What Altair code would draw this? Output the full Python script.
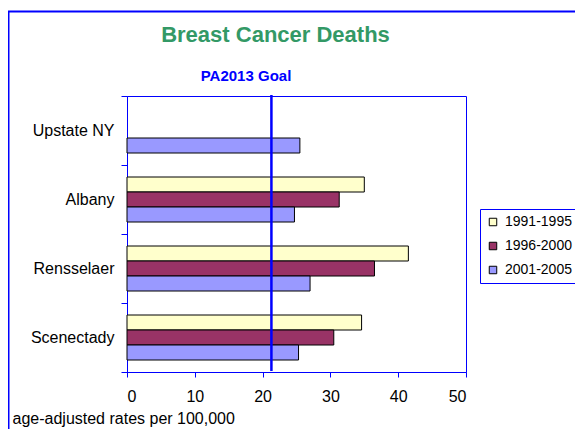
import altair as alt
import pandas as pd

categories = ["Upstate NY", "Albany", "Rensselaer", "Scenectady"]
periods = ["1991-1995", "1996-2000", "2001-2005"]
v1991 = [None, 35.0, 41.5, 34.6]
v1996 = [None, 31.3, 36.5, 30.5]
v2001 = [25.5, 24.7, 27.0, 25.3]
goal = [21.3]
colors = ["#FFFFCC", "#993366", "#9999FF"]
x_ticks = [0, 10, 20, 30, 40, 50]

rows = []
for series, vals in zip(periods, [v1991, v1996, v2001]):
    for cat, v in zip(categories, vals):
        if v is not None:
            rows.append({"area": cat, "period": series, "rate": v})
df = pd.DataFrame(rows)

FONT = "Liberation Sans"
BLUE = "#0000FF"

frame = alt.Chart(pd.DataFrame({"k": [0]})).mark_rect(
    fillOpacity=0, stroke=BLUE, strokeWidth=2
).encode(
    x=alt.value(-118.5), x2=alt.value(800), y=alt.value(-84.5), y2=alt.value(800)
)

bars = alt.Chart(df).mark_bar(stroke="black", strokeWidth=1).encode(
    x=alt.X(
        "rate:Q",
        scale=alt.Scale(domain=[0, 50], nice=False),
        axis=alt.Axis(
            values=x_ticks,
            title="age-adjusted rates per 100,000",
            titleX=-115,
            titleY=51,
            titleAlign="left",
            titleBaseline="alphabetic",
            titleFontSize=16,
            titleFontWeight="normal",
            titleFont=FONT,
            titleColor="black",
            labelFontSize=16,
            labelFont=FONT,
            labelColor="black",
            labelPadding=11,
            tickSize=5,
            tickColor=BLUE,
            domainColor=BLUE,
            grid=False,
        ),
    ),
    y=alt.Y(
        "area:N",
        sort=categories,
        scale=alt.Scale(domain=categories, paddingInner=0, paddingOuter=0),
        axis=alt.Axis(
            title=None,
            tickBand="extent",
            labelFontSize=16,
            labelFont=FONT,
            labelColor="black",
            labelPadding=7,
            tickSize=6,
            tickColor=BLUE,
            domainColor=BLUE,
            grid=False,
        ),
    ),
    yOffset=alt.YOffset(
        "period:N", sort=periods,
        scale=alt.Scale(domain=periods, paddingInner=0, paddingOuter=0.8),
    ),
    color=alt.Color(
        "period:N",
        sort=periods,
        scale=alt.Scale(domain=periods, range=colors),
        legend=alt.Legend(
            title=None,
            orient="none",
            legendX=353,
            legendY=113,
            strokeColor=BLUE,
            padding=6,
            symbolType="square",
            symbolSize=56,
            symbolStrokeColor="black",
            symbolStrokeWidth=1,
            labelFontSize=14,
            labelFont=FONT,
            labelColor="black",
            labelOffset=5,
            rowPadding=10,
        ),
    ),
)

rule = alt.Chart(pd.DataFrame({"goal": goal})).mark_rule(
    color=BLUE, strokeWidth=2.5
).encode(x="goal:Q", y=alt.value(-1), y2=alt.value(275))

title = alt.Chart(pd.DataFrame({"t": ["Breast Cancer Deaths"]})).mark_text(
    align="center", baseline="alphabetic", font=FONT, fontSize=22,
    fontWeight="bold", color="#339966"
).encode(x=alt.value(148.5), y=alt.value(-54.5), text="t:N")

goal_label = alt.Chart(pd.DataFrame({"t": ["PA2013 Goal"]})).mark_text(
    align="center", baseline="alphabetic", font=FONT, fontSize=15,
    fontWeight="bold", color=BLUE
).encode(x=alt.value(119), y=alt.value(-15), text="t:N")

chart = alt.layer(frame, bars, rule, title, goal_label).properties(
    width=339,
    height=276,
    autosize=alt.AutoSizeParams(type="none"),
    padding={"left": 119, "top": 88, "right": 109, "bottom": 57},
    background="white",
).configure(font=FONT).configure_view(stroke=BLUE, strokeWidth=1)

chart.save("out.html", embed_options={"renderer": "svg", "actions": False})
